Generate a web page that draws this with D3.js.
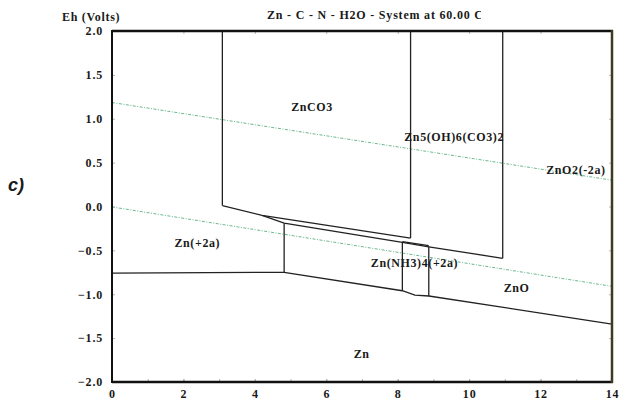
<!DOCTYPE html>
<html>
<head>
<meta charset="utf-8">
<script src="https://cdn.jsdelivr.net/npm/d3@7"></script>
<style>
  body { margin: 0; background: #fff; }
  text { font-family: "Liberation Serif", "Times New Roman", serif; font-weight: bold; fill: #1a1a1a; }
</style>
</head>
<body>
<svg id="chart"></svg>
<script>
// axis ticks
const phTicks = [0, 2, 4, 6, 8, 10, 12, 14];
const phMinorTicks = [1, 2, 3, 4, 5, 6, 7, 8, 9, 10, 11, 12, 13];
const ehTicks = [2.0, 1.5, 1.0, 0.5, 0.0, -0.5, -1.0, -1.5, -2.0];

// stability field boundaries, [pH, Eh]
const carbonateLeft = [[3.09, 2.0], [3.09, 0.01]];
const carbonateBottom = [[3.09, 0.01], [4.20, -0.10], [8.36, -0.36]];
const carbonateRight = [[8.36, 2.0], [8.36, -0.36]];
const hydrozinciteRight = [[10.94, 2.0], [10.94, -0.59]];
const hydrozinciteBottom = [[4.20, -0.10], [4.82, -0.19], [8.13, -0.41], [8.87, -0.46], [10.94, -0.59]];
const ammineTop = [[8.13, -0.40], [8.87, -0.445]];
const zincIonRight = [[4.82, -0.19], [4.82, -0.75]];
const ammineLeft = [[8.13, -0.41], [8.13, -0.96]];
const ammineRight = [[8.87, -0.46], [8.87, -1.02]];
const metalTop = [[0, -0.76], [4.82, -0.75], [8.13, -0.96], [8.48, -1.01], [8.87, -1.02], [14, -1.34]];

// water stability lines
const waterUpper = [[0, 1.185], [14, 0.30]];
const waterLower = [[0, -0.005], [14, -0.91]];

// field labels
const regionNames = ["ZnCO3", "Zn5(OH)6(CO3)2", "ZnO2(-2a)", "Zn(+2a)", "Zn(NH3)4(+2a)", "ZnO", "Zn"];
const regionPH = [5.60, 9.58, 12.99, 2.39, 8.47, 11.33, 6.99];
const regionEh = [1.137, 0.792, 0.416, -0.408, -0.640, -0.932, -1.673];

const width = 619;
const height = 401;
const plotLeft = 112, plotRight = 612, plotTop = 31, plotBottom = 382;

const svg = d3.select("#chart")
  .attr("width", width)
  .attr("height", height);

const x = d3.scaleLinear().domain([0, 14]).range([plotLeft, plotRight]);
const y = d3.scaleLinear().domain([-2, 2]).range([plotBottom, plotTop]);

const line = d3.line().x(d => x(d[0])).y(d => y(d[1]));

// light inner ticks
const tickColor = "#b5b5b5";
svg.append("g")
  .attr("transform", `translate(0, ${plotTop})`)
  .call(d3.axisBottom(x).tickValues(phMinorTicks.filter(d => d % 2 == 0)).tickSize(3).tickFormat(""))
  .call(g => g.select(".domain").remove())
  .call(g => g.selectAll("line").attr("stroke", tickColor));
svg.append("g")
  .attr("transform", `translate(${plotRight}, 0)`)
  .call(d3.axisLeft(y).tickValues(ehTicks).tickSize(3).tickFormat(""))
  .call(g => g.select(".domain").remove())
  .call(g => g.selectAll("line").attr("stroke", tickColor));

// water lines
[waterUpper, waterLower].forEach(d => {
  svg.append("path")
    .attr("d", line(d))
    .attr("fill", "none")
    .attr("stroke", "#6bb98e")
    .attr("stroke-width", 1)
    .attr("stroke-dasharray", "3,1.5,1,1.5");
});

// boundaries
const boundaries = [carbonateLeft, carbonateBottom, carbonateRight, hydrozinciteRight,
  hydrozinciteBottom, ammineTop, zincIonRight, ammineLeft, ammineRight, metalTop];
svg.selectAll("path.boundary")
  .data(boundaries)
  .enter()
  .append("path")
  .attr("class", "boundary")
  .attr("d", line)
  .attr("fill", "none")
  .attr("stroke", "#222")
  .attr("stroke-width", 1.3);

// axes
const yAxis = svg.append("g")
  .attr("transform", `translate(${plotLeft}, 0)`)
  .call(d3.axisLeft(y).tickValues(ehTicks).tickSizeInner(-3).tickSizeOuter(0).tickPadding(9).tickFormat(d3.format(".1f")));
yAxis.select(".domain").remove();
yAxis.selectAll("line").attr("stroke", tickColor);
yAxis.selectAll("text").attr("font-size", 12).attr("letter-spacing", "0.8px")
  .attr("font-family", "Liberation Serif").attr("fill", "#1a1a1a");

const xAxis = svg.append("g")
  .attr("transform", `translate(0, ${plotBottom})`)
  .call(d3.axisBottom(x).tickValues(phTicks).tickSizeInner(-3).tickSizeOuter(0).tickPadding(7));
xAxis.select(".domain").remove();
xAxis.selectAll("line").attr("stroke", tickColor);
xAxis.selectAll("text").attr("font-size", 12).attr("letter-spacing", "0.8px")
  .attr("font-family", "Liberation Serif").attr("fill", "#1a1a1a");
svg.append("g")
  .attr("transform", `translate(0, ${plotBottom})`)
  .call(d3.axisBottom(x).tickValues(phMinorTicks).tickSize(-3).tickFormat(""))
  .call(g => g.select(".domain").remove())
  .call(g => g.selectAll("line").attr("stroke", tickColor));

// frame
svg.append("line").attr("x1", plotLeft).attr("x2", plotLeft).attr("y1", plotTop - 1).attr("y2", plotBottom + 1)
  .attr("stroke", "#111").attr("stroke-width", 2);
svg.append("line").attr("x1", plotLeft).attr("x2", plotRight + 1).attr("y1", plotTop).attr("y2", plotTop)
  .attr("stroke", "#111").attr("stroke-width", 2.5);
svg.append("line").attr("x1", plotLeft).attr("x2", plotRight + 1).attr("y1", plotBottom).attr("y2", plotBottom)
  .attr("stroke", "#111").attr("stroke-width", 2.5);
svg.append("line").attr("x1", plotRight).attr("x2", plotRight).attr("y1", plotTop - 1).attr("y2", plotBottom + 1)
  .attr("stroke", "#3f3a22").attr("stroke-width", 2.5);

// field labels
svg.selectAll("text.region")
  .data(regionNames)
  .enter()
  .append("text")
  .attr("class", "region")
  .attr("x", (d, i) => x(regionPH[i]))
  .attr("y", (d, i) => y(regionEh[i]))
  .attr("dy", "0.35em")
  .attr("text-anchor", "middle")
  .attr("font-size", 12)
  .attr("letter-spacing", "0.6px")
  .text(d => d);

// titles
svg.append("defs").append("clipPath").attr("id", "titleClip")
  .append("rect").attr("x", 0).attr("y", 0).attr("width", 481).attr("height", 28);
svg.append("text")
  .attr("x", 267)
  .attr("y", 19)
  .attr("font-size", 12)
  .attr("letter-spacing", "0.8px")
  .attr("clip-path", "url(#titleClip)")
  .text("Zn - C - N - H2O - System at 60.00 C");

svg.append("text")
  .attr("x", 62)
  .attr("y", 21)
  .attr("font-size", 12)
  .attr("letter-spacing", "0.7px")
  .text("Eh (Volts)");

svg.append("text")
  .attr("x", 8)
  .attr("y", 191)
  .attr("font-size", 18)
  .attr("font-style", "italic")
  .style("font-family", "'Liberation Sans', Arial, sans-serif")
  .text("c)");
</script>
</body>
</html>
